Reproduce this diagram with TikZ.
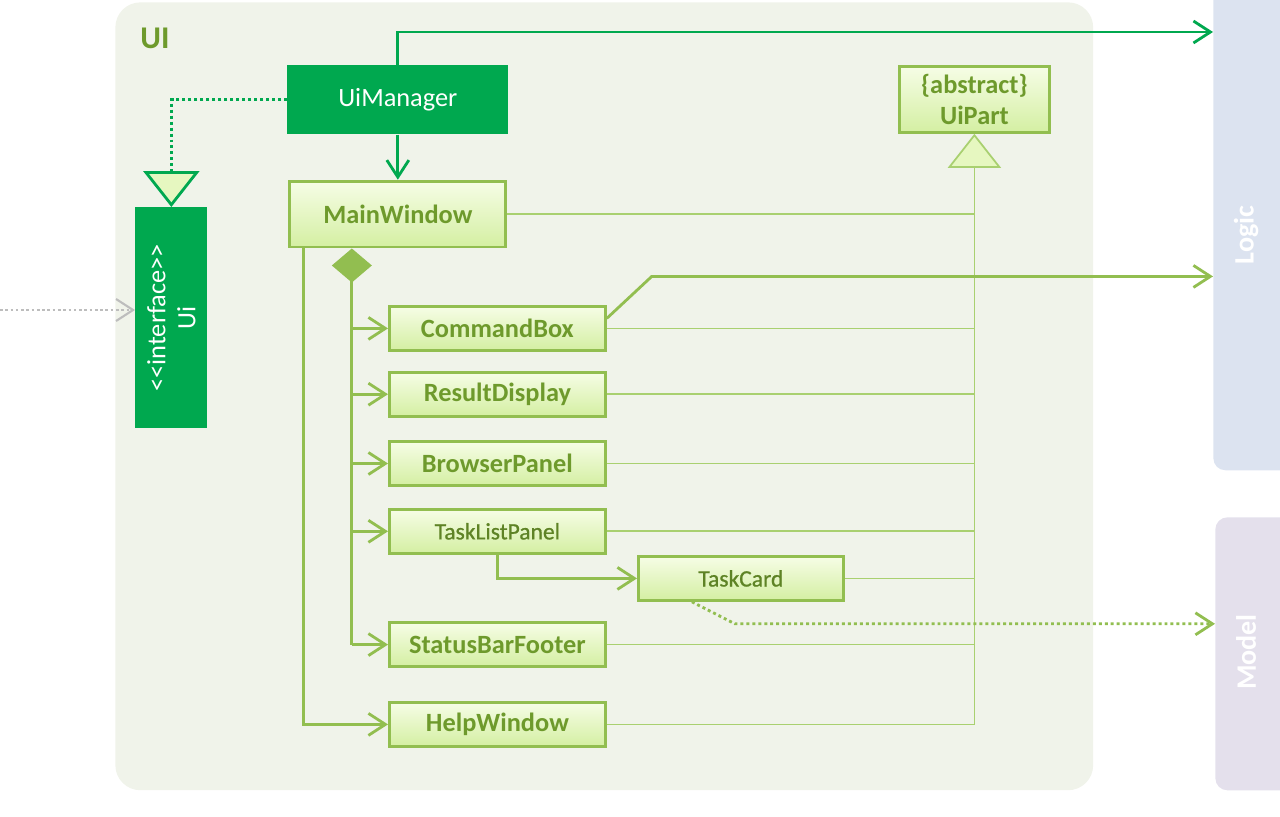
\documentclass[tikz,border=0pt]{standalone}
\usepackage{fontspec}
\setmainfont{Carlito}
\newfontface\semiface{Carlito}[FakeBold=0.8]
\usetikzlibrary{arrows.meta,positioning,calc}
\definecolor{pkgbg}{HTML}{F0F3EA}
\definecolor{dkgreen}{HTML}{00A84F}
\definecolor{clsline}{HTML}{92BE50}
\definecolor{clstop}{HTML}{F6FDE6}
\definecolor{clsbot}{HTML}{D4EFA2}
\definecolor{clstext}{HTML}{6E9A2C}
\definecolor{thinline}{HTML}{A9D070}
\definecolor{trifill}{HTML}{E6F7C0}
\definecolor{logicbg}{HTML}{DCE3F0}
\definecolor{modelbg}{HTML}{E4E0EC}
\definecolor{extgrey}{HTML}{BDBDBD}
\tikzset{
  cls/.style={rectangle, draw=clsline, line width=1.6pt, top color=clstop,
              bottom color=clsbot, text=clstext, inner sep=0pt, align=center,
              font=\fontsize{15}{18}\selectfont\bfseries,
              minimum width=4.32cm, minimum height=0.88cm},
  clsthin/.style={cls, text=clstext!85!black, font=\fontsize{13.4}{16}\semiface},
  solidcls/.style={rectangle, fill=dkgreen, text=white, inner sep=0pt,
              align=center, font=\fontsize{15}{17}\selectfont},
  layer/.style={rectangle, rounded corners=0.24cm, inner sep=0pt, minimum width=1.8cm},
  layertxt/.style={rotate=90, text=white, font=\fontsize{16}{18}\selectfont\bfseries},
  own/.style={-{Straight Barb[length=0.34cm, width=0.44cm]}, draw=clsline, line width=1.6pt},
  comp/.style={{Diamond[length=0.68cm, width=0.8cm]}-, draw=clsline, line width=1.6pt},
  realz/.style={draw=thinline, line width=1pt},
  genl/.style={realz, -{Triangle[length=0.68cm, width=1.06cm, fill=trifill]}},
  impl/.style={draw=dkgreen, line width=1.6pt, dash pattern=on 1.7pt off 1.7pt,
               -{Triangle[length=0.72cm, width=1.12cm, fill=trifill]}},
}

\begin{document}
\begin{tikzpicture}[x=0.02cm, y=-0.02cm]
\clip (0,0) rectangle (1280,816);

% --- layers -------------------------------------------------------------
\node[layer, fill=logicbg, anchor=north west, minimum height=9.8cm] (logic) at (1213,-20) {};
\node[layertxt] (logiclbl) at (1246,235) {Logic};
\node[layer, fill=modelbg, anchor=north west, minimum height=5.46cm] (model) at (1215,517) {};
\node[layertxt] (modellbl) at (1246,652) {Model};

\node[rectangle, rounded corners=0.5cm, fill=pkgbg, anchor=north west,
      minimum width=19.56cm, minimum height=15.76cm] (uipkg) at (115,2) {};
\node[text=clstext, font=\fontsize{18}{20}\selectfont\bfseries] (uilbl) at (155,38) {UI};

% --- ui entry -----------------------------------------------------------
\node[solidcls, anchor=north west, minimum width=4.42cm, minimum height=1.38cm] (uim)
  at (287,65) {UiManager};
\node[solidcls, anchor=north west, minimum width=1.44cm, minimum height=4.42cm] (ui)
  at (135,207) {};
\node[rotate=90, text=white, align=center, font=\fontsize{15}{17}\selectfont] (uitxt)
  at (ui.center) {<\kern0pt<\kern0pt interface>\kern0pt>\\Ui};
\coordinate (caller) at (0,310);

\node[cls, below=0.9cm of uim, minimum height=1.32cm] (mw) {MainWindow};
\node[cls, anchor=north west, minimum width=3cm, minimum height=1.32cm] (uipart)
  at (898,65) {\{abstract\}\\UiPart};

% --- parts --------------------------------------------------------------
\node[cls, anchor=north west] (cb) at (388,305) {CommandBox};
\node[cls, below=0.38cm of cb] (rd) {ResultDisplay};
\node[cls, below=0.45cm of rd] (bp) {BrowserPanel};
\node[clsthin, below=0.42cm of bp] (tlp) {TaskListPanel};
\node[clsthin, anchor=north west, minimum width=4.1cm] (tc) at (637,555) {TaskCard};
\node[cls, below=1.33cm of tlp] (sbf) {StatusBarFooter};
\node[cls, below=0.66cm of sbf] (hw) {HelpWindow};

% --- connectors ---------------------------------------------------------
\draw[impl] (uim.west) -| (ui.north);
\draw[own, draw=extgrey, line width=1.2pt, dash pattern=on 1.5pt off 1.5pt]
  (caller) -- (caller -| ui.west);
\draw[own, draw=dkgreen] (uim.north) |- ([yshift=-1.04cm]logic.north west);
\draw[own, draw=dkgreen] (uim) -- (mw);

\coordinate (spine) at ([xshift=-0.92cm]mw.south);
\draw[comp] (spine) -- (spine |- sbf.west);
\foreach \n in {cb,rd,bp,tlp,sbf}
  \draw[own] (spine |- \n.west) -- (\n.west);
\draw[own] ([xshift=-1.89cm]mw.south) |- (hw.west);
\draw[own] (tlp.south) |- (tc.west);

\foreach \n in {mw,cb,rd,bp,tlp,tc,sbf}
  \draw[realz] (\n.east) -- (\n.east -| uipart.south);
\draw[genl] (hw.east) -| (uipart.south);

\draw[own] ([yshift=0.2cm]cb.east) -- ++(45,-42) coordinate (cbk) -- (cbk -| logic.west);
\draw[own, dash pattern=on 1.7pt off 1.7pt] ([xshift=-0.98cm]tc.south) -- ++(43,22)
  coordinate (tck) -- (tck -| model.west);
\end{tikzpicture}
\end{document}
